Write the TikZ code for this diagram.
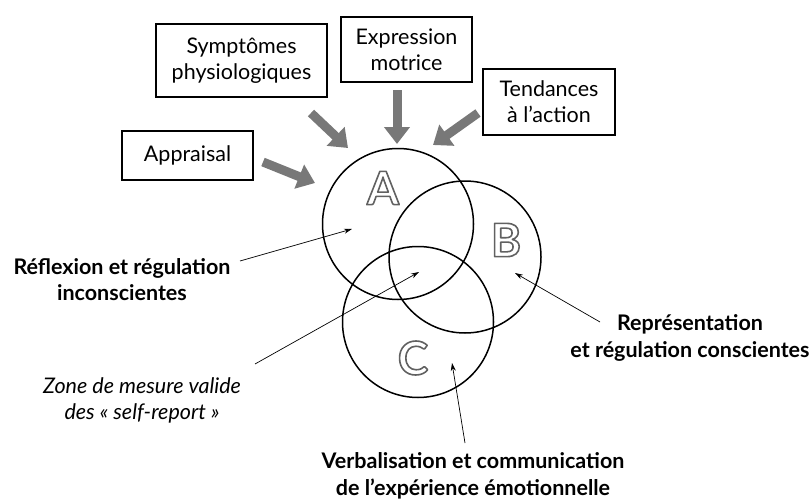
\documentclass[tikz,border=0pt]{standalone}
\usepackage{fontspec}
\setmainfont{Lato}
\usetikzlibrary{arrows.meta}
\definecolor{flowgray}{HTML}{787878}
% hollow letter: white fill, grey stroke via the PDF text rendering mode
\newcommand{\hollow}[1]{\textcolor{white}{%
  \special{pdf:literal direct 2 Tr 1.6 w 1 j 0.38 0.38 0.38 RG}#1%
  \special{pdf:literal direct 0 Tr}}}
\begin{document}
\begin{tikzpicture}[x=1pt,y=-1pt,
  txt/.style={inner sep=0pt, align=center},
  srcbox/.style={draw, line width=1.3pt, inner sep=0pt, align=center,
    font=\fontsize{21.5}{26}\selectfont},
  ring/.style={draw, circle, line width=1.5pt, inner sep=0pt},
  bigarrow/.style={draw=flowgray, line width=9pt,
    -{Triangle[length=17pt,width=25pt,fill=flowgray]}},
  pointer/.style={line width=0.7pt, -{Stealth[length=8pt,width=5pt]}},
  letter/.style={font=\fontsize{46}{46}\selectfont\bfseries, inner sep=0pt}
]
\useasboundingbox (0,0) rectangle (811,503);

% source boxes
\node[srcbox, minimum width=171pt, minimum height=73pt] (sym) at (241.5,60.5) {Symptômes\\physiologiques};
\node[srcbox, minimum width=131pt, minimum height=65pt] (expr) at (406.5,49.5) {Expression\\motrice};
\node[srcbox, minimum width=132pt, minimum height=66pt] (tend) at (549,102) {Tendances\\à l’action};
\node[srcbox, minimum width=131pt, minimum height=49pt] (appr) at (187.5,155.5) {Appraisal};

% the three overlapping circles
\node[ring, minimum size=151pt] (A) at (398,224) {};
\node[ring, minimum size=152pt] (B) at (465,257) {};
\node[ring, minimum size=151pt] (C) at (418,322) {};

\node[letter] (la) at (383,188) {\hollow{A}};
\node[letter] (lb) at (506,240) {\hollow{B}};
\node[letter] (lc) at (413,358) {\hollow{C}};

% inputs into circle A
\coordinate (symS) at (311,113);  \coordinate (symT) at (348,148);
\coordinate (exprS) at (397,90);  \coordinate (exprT) at (397,144);
\coordinate (tendS) at (478,113); \coordinate (tendT) at (433,145);
\coordinate (apprS) at (263,162); \coordinate (apprT) at (315,183);
\draw[bigarrow] (symS) -- (symT);
\draw[bigarrow] (exprS) -- (exprT);
\draw[bigarrow] (tendS) -- (tendT);
\draw[bigarrow] (apprS) -- (apprT);

% labels
\node[txt, font=\fontsize{21.5}{26}\selectfont\bfseries] (refl) at (122,280) {Réflexion et régulation\\inconscientes};
\node[txt, font=\fontsize{21.5}{26}\selectfont\itshape] (zone) at (142,400) {Zone de mesure valide\\des « self-report »};
\node[txt, font=\fontsize{21.5}{27}\selectfont\bfseries] (repr) at (690,338) {Représentation\\et régulation conscientes};
\node[txt, font=\fontsize{21.5}{27}\selectfont\bfseries] (verb) at (473,476) {Verbalisation et communication\\de l’expérience émotionnelle};

% pointers
\coordinate (reflS) at (240,261); \coordinate (reflT) at (352,229);
\coordinate (zoneS) at (255,364); \coordinate (zoneT) at (419,272);
\coordinate (reprS) at (600,322); \coordinate (reprT) at (515,273);
\coordinate (verbS) at (465,443); \coordinate (verbT) at (452,363);
\draw[pointer] (reflS) -- (reflT);
\draw[pointer] (zoneS) -- (zoneT);
\draw[pointer] (reprS) -- (reprT);
\draw[pointer] (verbS) -- (verbT);
\end{tikzpicture}
\end{document}
